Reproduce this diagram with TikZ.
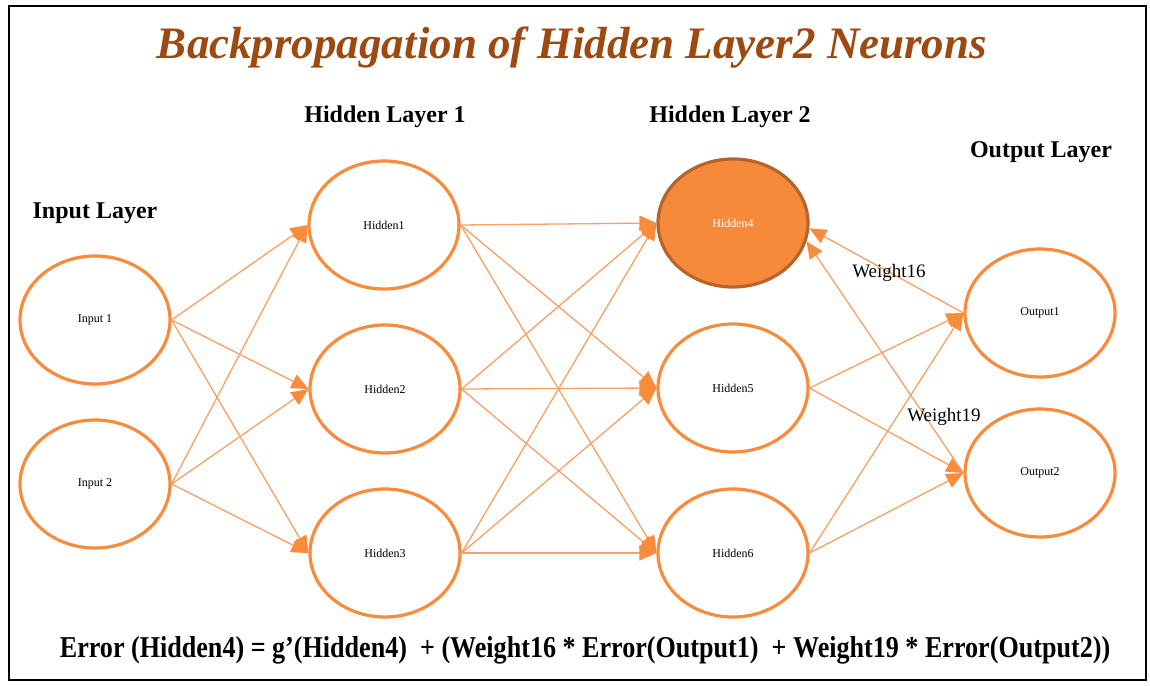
\documentclass[tikz,border=0pt]{standalone}
\usepackage{fontspec}
\setmainfont{Liberation Serif}
\usetikzlibrary{shapes.geometric,arrows.meta}
\definecolor{nodeor}{HTML}{F98B3D}
\definecolor{edgeor}{HTML}{F9A066}
\definecolor{fillor}{HTML}{F7893A}
\definecolor{darkor}{HTML}{B5652C}
\definecolor{titlec}{HTML}{9C4A12}
\begin{document}
\begin{tikzpicture}[x=1pt,y=-1pt,
  neuron/.style={ellipse, draw=nodeor, line width=3.2pt, minimum width=150pt, minimum height=128pt, inner sep=0pt, font=\fontsize{12}{14}\selectfont},
  conn/.style={draw=edgeor, line width=1.3pt, -{Triangle[length=17pt,width=15pt,fill=nodeor,color=nodeor]}},
  layerlbl/.style={font=\bfseries\fontsize{24}{28}\selectfont},
  wlbl/.style={font=\fontsize{19}{22}\selectfont}]
\useasboundingbox (0,0) rectangle (1150,685);
\draw[line width=2.5pt] (9,6) rectangle (1146,680);
\node[font=\bfseries\itshape\fontsize{45}{50}\selectfont, text=titlec] (title) at (572,48) {Backpropagation of Hidden Layer2 Neurons};
\node[layerlbl] (lh1) at (385,117) {Hidden Layer 1};
\node[layerlbl] (lh2) at (730,117) {Hidden Layer 2};
\node[layerlbl] (lout) at (1041,152) {Output Layer};
\node[layerlbl] (lin) at (95,213) {Input Layer};
\node[neuron] (in1) at (95,320) {Input 1};
\node[neuron] (in2) at (95,484) {Input 2};
\node[neuron] (h1) at (384,225) {Hidden1};
\node[neuron] (h2) at (385,389) {Hidden2};
\node[neuron] (h3) at (385,553) {Hidden3};
\node[neuron, fill=fillor, draw=darkor, text=white] (h4) at (733,223) {Hidden4};
\node[neuron] (h5) at (733,388) {Hidden5};
\node[neuron] (h6) at (733,553) {Hidden6};
\node[neuron] (o1) at (1040,313) {Output1};
\node[neuron] (o2) at (1040,473) {Output2};
\foreach \a in {in1,in2}{\foreach \b in {h1,h2,h3}{\draw[conn] (\a.east) -- (\b.west);}}
\foreach \a in {h1,h2,h3}{\foreach \b in {h4,h5,h6}{\draw[conn] (\a.east) -- (\b.west);}}
\foreach \a in {h5,h6}{\foreach \b in {o1,o2}{\draw[conn] (\a.east) -- (\b.west);}}
\draw[conn] (o1.west) -- (h4.-4);
\draw[conn] (o2.west) -- (h4.-14);
\node[wlbl] (w16) at (889,273) {Weight16};
\node[wlbl] (w19) at (944,417) {Weight19};
\node (formula) at (585,650) {\resizebox{1050pt}{21pt}{\bfseries Error (Hidden4) = g'(Hidden4)\ \ + (Weight16 * Error(Output1)\ \ + Weight19 * Error(Output2))}};
\end{tikzpicture}
\end{document}
